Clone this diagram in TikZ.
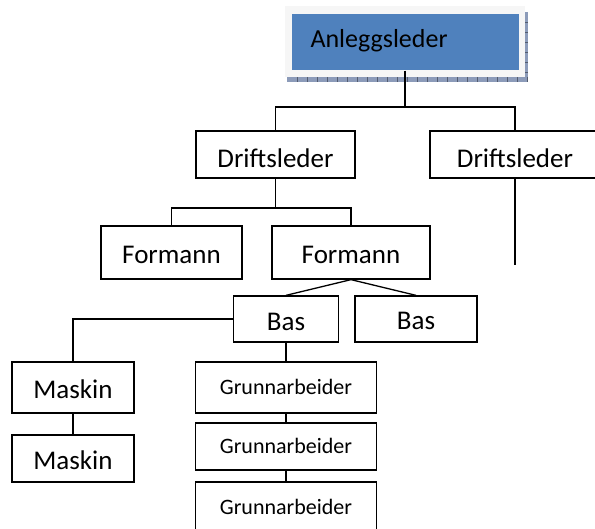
\documentclass[tikz,border=0pt]{standalone}
\usepackage{fontspec}
\setmainfont{Carlito}
\definecolor{headblue}{RGB}{79,129,189}
\definecolor{shadowblue}{RGB}{140,155,185}
\begin{document}
\begin{tikzpicture}[x=1pt,y=-1pt,line width=1.3pt,
  rolebox/.style={draw,fill=white,inner sep=0pt,font=\fontsize{27}{30}\selectfont,text height=22pt,text depth=0pt},
  workbox/.style={rolebox,font=\fontsize{22}{25}\selectfont,text height=14pt}]
\clip (0,0) rectangle (595,529);
% head box, frame and shadow
\fill[shadowblue] (287,77) rectangle (528,82);
\fill[shadowblue] (525,12) rectangle (528,82);
\foreach \x in {297,307,...,527} { \draw[line width=0.4pt,shadowblue!60!black] (\x,77)--(\x,82); }
\foreach \y in {22,32,...,72} { \draw[line width=0.4pt,shadowblue!60!black] (525,\y)--(528,\y); }
\fill[gray!7] (285,6) rectangle (525,77);
\node[fill=headblue,minimum width=227pt,minimum height=56pt,inner xsep=19pt,text width=189pt,align=left,font=\fontsize{26}{30}\selectfont,text height=12pt,text depth=0pt] (anl) at (405,42) {Anleggsleder};
% boxes
\node[rolebox,minimum width=159pt,minimum height=47pt,text height=26pt] (drift1) at (275.5,154.5) {Driftsleder};
\node[rolebox,minimum width=170pt,minimum height=47pt,text height=26pt] (drift2) at (515,154.5) {Driftsleder};
\node[rolebox,minimum width=141pt,minimum height=53pt] (form1) at (171.5,252.5) {Formann};
\node[rolebox,minimum width=158pt,minimum height=53pt] (form2) at (351,252.5) {Formann};
\node[rolebox,minimum width=105pt,minimum height=46pt,text height=24pt] (bas1) at (286,319) {Bas};
\node[rolebox,minimum width=122pt,minimum height=46pt] (bas2) at (416,319) {Bas};
\node[rolebox,minimum width=122pt,minimum height=51pt] (mask1) at (73,387.5) {Maskin};
\node[rolebox,minimum width=122pt,minimum height=47pt] (mask2) at (73,458.5) {Maskin};
\node[workbox,minimum width=181pt,minimum height=51pt] (grunn1) at (286,387.5) {Grunnarbeider};
\node[workbox,minimum width=181pt,minimum height=47pt] (grunn2) at (286,446.5) {Grunnarbeider};
\node[workbox,minimum width=181pt,minimum height=51pt] (grunn3) at (286,507.5) {Grunnarbeider};
% connectors
\coordinate (j0) at (405,107);
\coordinate (j1) at (275.5,208);
\coordinate (dend) at (515,265);
\draw (anl.south) -- (j0);
\draw (drift1.north) |- (j0) -| (drift2.north);
\draw (drift2.south) -- (dend);
\draw (drift1.south) -- (j1);
\draw (form1.north) |- (j1) -| (form2.north);
\draw (form2.south) -- (bas1.north);
\draw (form2.south) -- (bas2.north);
\draw (bas1.west) -| (mask1.north);
\draw (mask1) -- (mask2);
\draw (bas1) -- (grunn1);
\draw (grunn1) -- (grunn2);
\draw (grunn2) -- (grunn3);
\end{tikzpicture}
\end{document}
